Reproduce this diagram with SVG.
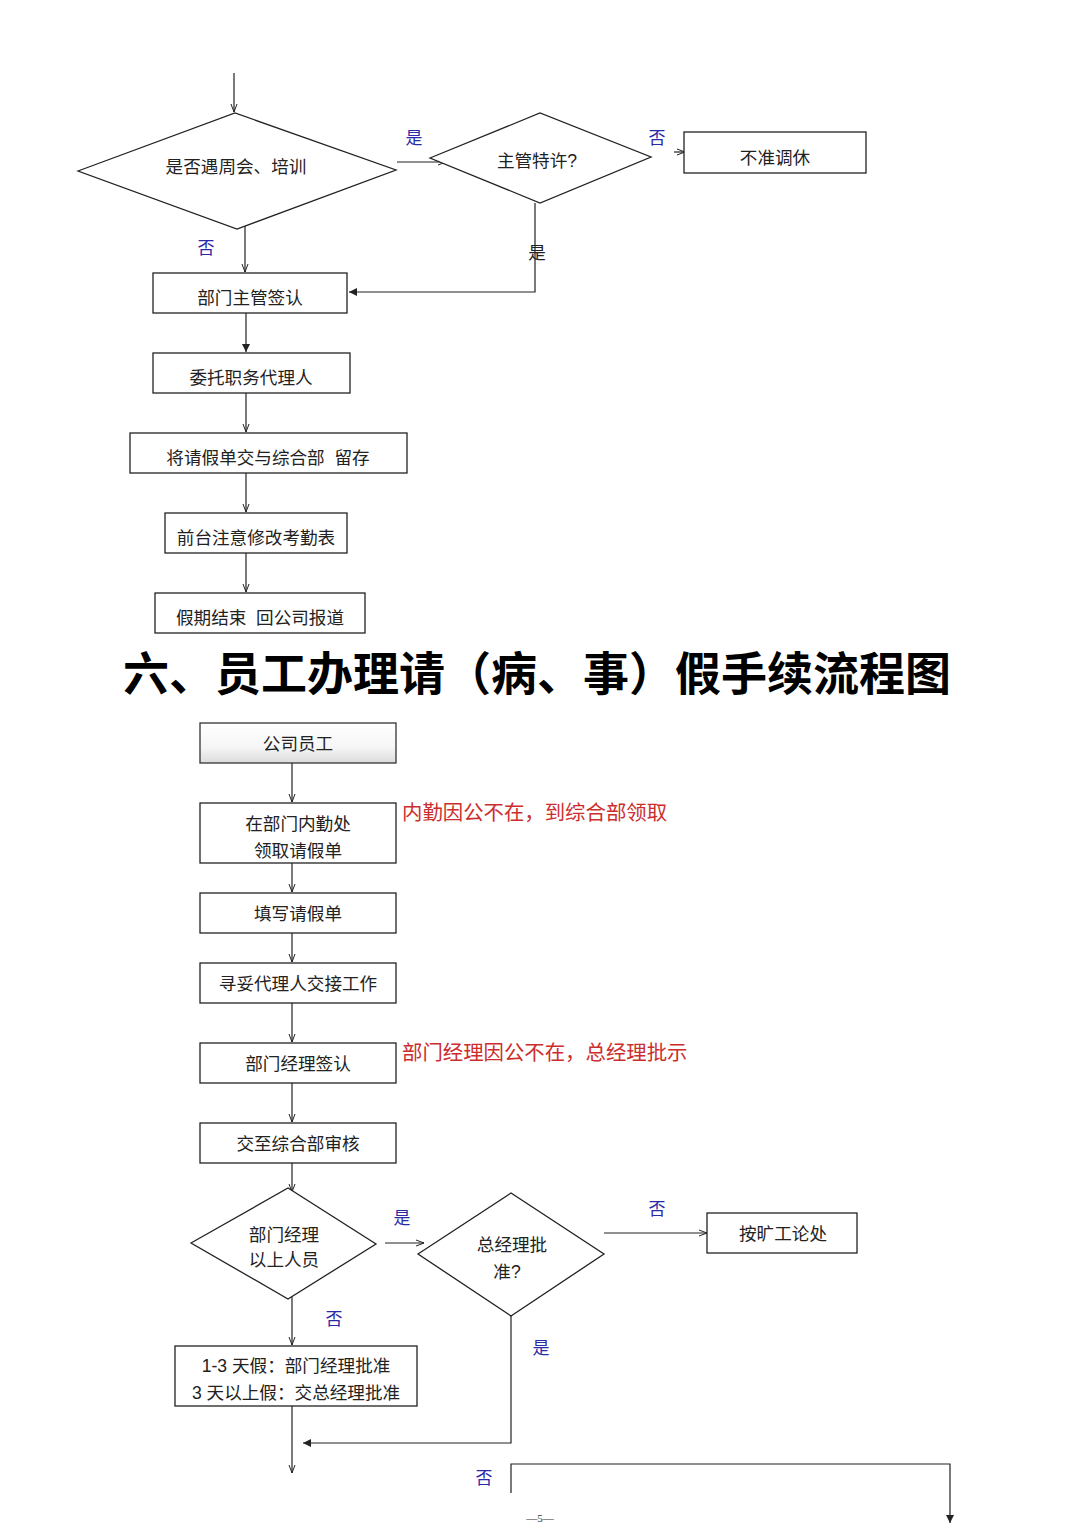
<svg xmlns="http://www.w3.org/2000/svg" width="1080" height="1528" viewBox="0 0 1080 1528">
<defs>
<style>
.n{fill:#fff;stroke:#222;stroke-width:1.3}
.t{font-family:"Liberation Sans","Noto Sans CJK SC",sans-serif;font-size:17.6px;fill:#222;text-anchor:middle}
.b{font-family:"Liberation Serif","Noto Sans CJK SC",serif;font-size:17px;fill:#2a2aa8;text-anchor:middle}
.r{font-family:"Liberation Serif","Noto Sans CJK SC",serif;font-size:20.4px;fill:#cc2e2e}
.c{fill:none;stroke:#222;stroke-width:1.2}
</style>
<marker id="a" markerWidth="10" markerHeight="10" refX="9" refY="5" orient="auto" markerUnits="userSpaceOnUse"><path d="M1,1 L9,5 L1,9 Z" fill="#222"/></marker>
<marker id="s" markerWidth="10" markerHeight="10" refX="9" refY="5" orient="auto" markerUnits="userSpaceOnUse"><path d="M1,2 L9,5 L1,8" fill="none" stroke="#222" stroke-width="1"/></marker>
<linearGradient id="g" x1="0" y1="0" x2="0" y2="1"><stop offset="0" stop-color="#ffffff"/><stop offset="0.6" stop-color="#f6f6f6"/><stop offset="1" stop-color="#dcdcdc"/></linearGradient>
</defs>
<rect width="1080" height="1528" fill="#fff"/>

<g id="connectors">
<line class="c" x1="234" y1="73" x2="234" y2="112" marker-end="url(#s)"/>
<line class="c" x1="397" y1="162" x2="446" y2="162" marker-end="url(#s)"/>
<line class="c" x1="627" y1="152" x2="638" y2="152"/>
<line class="c" x1="674" y1="152" x2="685" y2="152" marker-end="url(#s)"/>
<line class="c" x1="245" y1="224" x2="245" y2="272" marker-end="url(#s)"/>
<polyline class="c" points="535,203 535,292 349,292" marker-end="url(#a)"/>
<line class="c" x1="246" y1="313" x2="246" y2="352" marker-end="url(#a)"/>
<line class="c" x1="246" y1="393" x2="246" y2="432" marker-end="url(#s)"/>
<line class="c" x1="246" y1="473" x2="246" y2="512" marker-end="url(#s)"/>
<line class="c" x1="246" y1="553" x2="246" y2="592" marker-end="url(#s)"/>

<line class="c" x1="292" y1="763" x2="292" y2="802" marker-end="url(#s)"/>
<line class="c" x1="292" y1="863" x2="292" y2="892" marker-end="url(#s)"/>
<line class="c" x1="292" y1="933" x2="292" y2="962" marker-end="url(#s)"/>
<line class="c" x1="292" y1="1003" x2="292" y2="1042" marker-end="url(#s)"/>
<line class="c" x1="292" y1="1083" x2="292" y2="1122" marker-end="url(#s)"/>
<line class="c" x1="292" y1="1163" x2="292" y2="1192" marker-end="url(#s)"/>
<line class="c" x1="385" y1="1243" x2="424" y2="1243" marker-end="url(#s)"/>
<line class="c" x1="604" y1="1233" x2="707" y2="1233" marker-end="url(#s)"/>
<line class="c" x1="292" y1="1297" x2="292" y2="1345" marker-end="url(#s)"/>
<polyline class="c" points="511,1316 511,1443 303,1443" marker-end="url(#a)"/>
<line class="c" x1="292" y1="1406" x2="292" y2="1473" marker-end="url(#s)"/>
<polyline class="c" points="511,1493 511,1464 950,1464 950,1523" marker-end="url(#a)"/>
</g>

<g id="d1"><polygon class="n" points="78,171 235,113 396,170 237,229"/><text class="t" x="236" y="173">是否遇周会、培训</text></g>
<g id="d2"><polygon class="n" points="430,158 540,113 651,157 540,203"/><text class="t" x="537" y="167">主管特许?</text></g>
<g id="n1"><rect class="n" x="684" y="132" width="182" height="41"/><text class="t" x="775" y="164">不准调休</text></g>
<g id="n2"><rect class="n" x="153" y="273" width="194" height="40"/><text class="t" x="250" y="304">部门主管签认</text></g>
<g id="n3"><rect class="n" x="153" y="353" width="197" height="40"/><text class="t" x="251" y="384">委托职务代理人</text></g>
<g id="n4"><rect class="n" x="130" y="433" width="277" height="40"/><text class="t" x="268" y="464" xml:space="preserve">将请假单交与综合部  留存</text></g>
<g id="n5"><rect class="n" x="165" y="513" width="182" height="40"/><text class="t" x="256" y="544">前台注意修改考勤表</text></g>
<g id="n6"><rect class="n" x="155" y="593" width="210" height="40"/><text class="t" x="260" y="624" xml:space="preserve">假期结束  回公司报道</text></g>

<g id="labels1">
<text class="b" x="414" y="144">是</text>
<text class="b" x="657" y="144">否</text>
<text class="b" x="206" y="254">否</text>
<text class="t" x="537" y="259">是</text>
</g>

<text id="title" x="537" y="690" text-anchor="middle" font-family="'Noto Sans CJK SC',sans-serif" font-weight="700" font-size="46" fill="#000">六、员工办理请（病、事）假手续流程图</text>

<g id="m1"><rect x="200" y="723" width="196" height="40" fill="url(#g)" stroke="#333" stroke-width="1.3"/><text class="t" x="298" y="750">公司员工</text></g>
<g id="m2"><rect class="n" x="200" y="803" width="196" height="60"/><text class="t" x="298" y="830">在部门内勤处</text><text class="t" x="298" y="857">领取请假单</text></g>
<text class="r" x="402" y="820">内勤因公不在，到综合部领取</text>
<g id="m3"><rect class="n" x="200" y="893" width="196" height="40"/><text class="t" x="298" y="920">填写请假单</text></g>
<g id="m4"><rect class="n" x="200" y="963" width="196" height="40"/><text class="t" x="298" y="990">寻妥代理人交接工作</text></g>
<g id="m5"><rect class="n" x="200" y="1043" width="196" height="40"/><text class="t" x="298" y="1070">部门经理签认</text></g>
<text class="r" x="402" y="1060">部门经理因公不在，总经理批示</text>
<g id="m6"><rect class="n" x="200" y="1123" width="196" height="40"/><text class="t" x="298" y="1150">交至综合部审核</text></g>
<g id="d3"><polygon class="n" points="191,1243 288,1188 376,1244 288,1299"/><text class="t" x="284" y="1241">部门经理</text><text class="t" x="284" y="1266">以上人员</text></g>
<g id="d4"><polygon class="n" points="418,1254 511,1193 604,1254 511,1316"/><text class="t" x="512" y="1251">总经理批</text><text class="t" x="507" y="1278">准?</text></g>
<g id="m7"><rect class="n" x="707" y="1213" width="150" height="40"/><text class="t" x="783" y="1240">按旷工论处</text></g>
<g id="m8"><rect class="n" x="175" y="1346" width="242" height="60"/><text class="t" x="296" y="1372">1-3 天假：部门经理批准</text><text class="t" x="296" y="1399">3 天以上假：交总经理批准</text></g>

<g id="labels2">
<text class="b" x="402" y="1224">是</text>
<text class="b" x="657" y="1215">否</text>
<text class="b" x="334" y="1325">否</text>
<text class="b" x="541" y="1354">是</text>
<text class="b" x="484" y="1484">否</text>
</g>
<text x="540" y="1522" text-anchor="middle" font-family="'Liberation Serif',serif" font-size="11" fill="#333">—5—</text>
</svg>
